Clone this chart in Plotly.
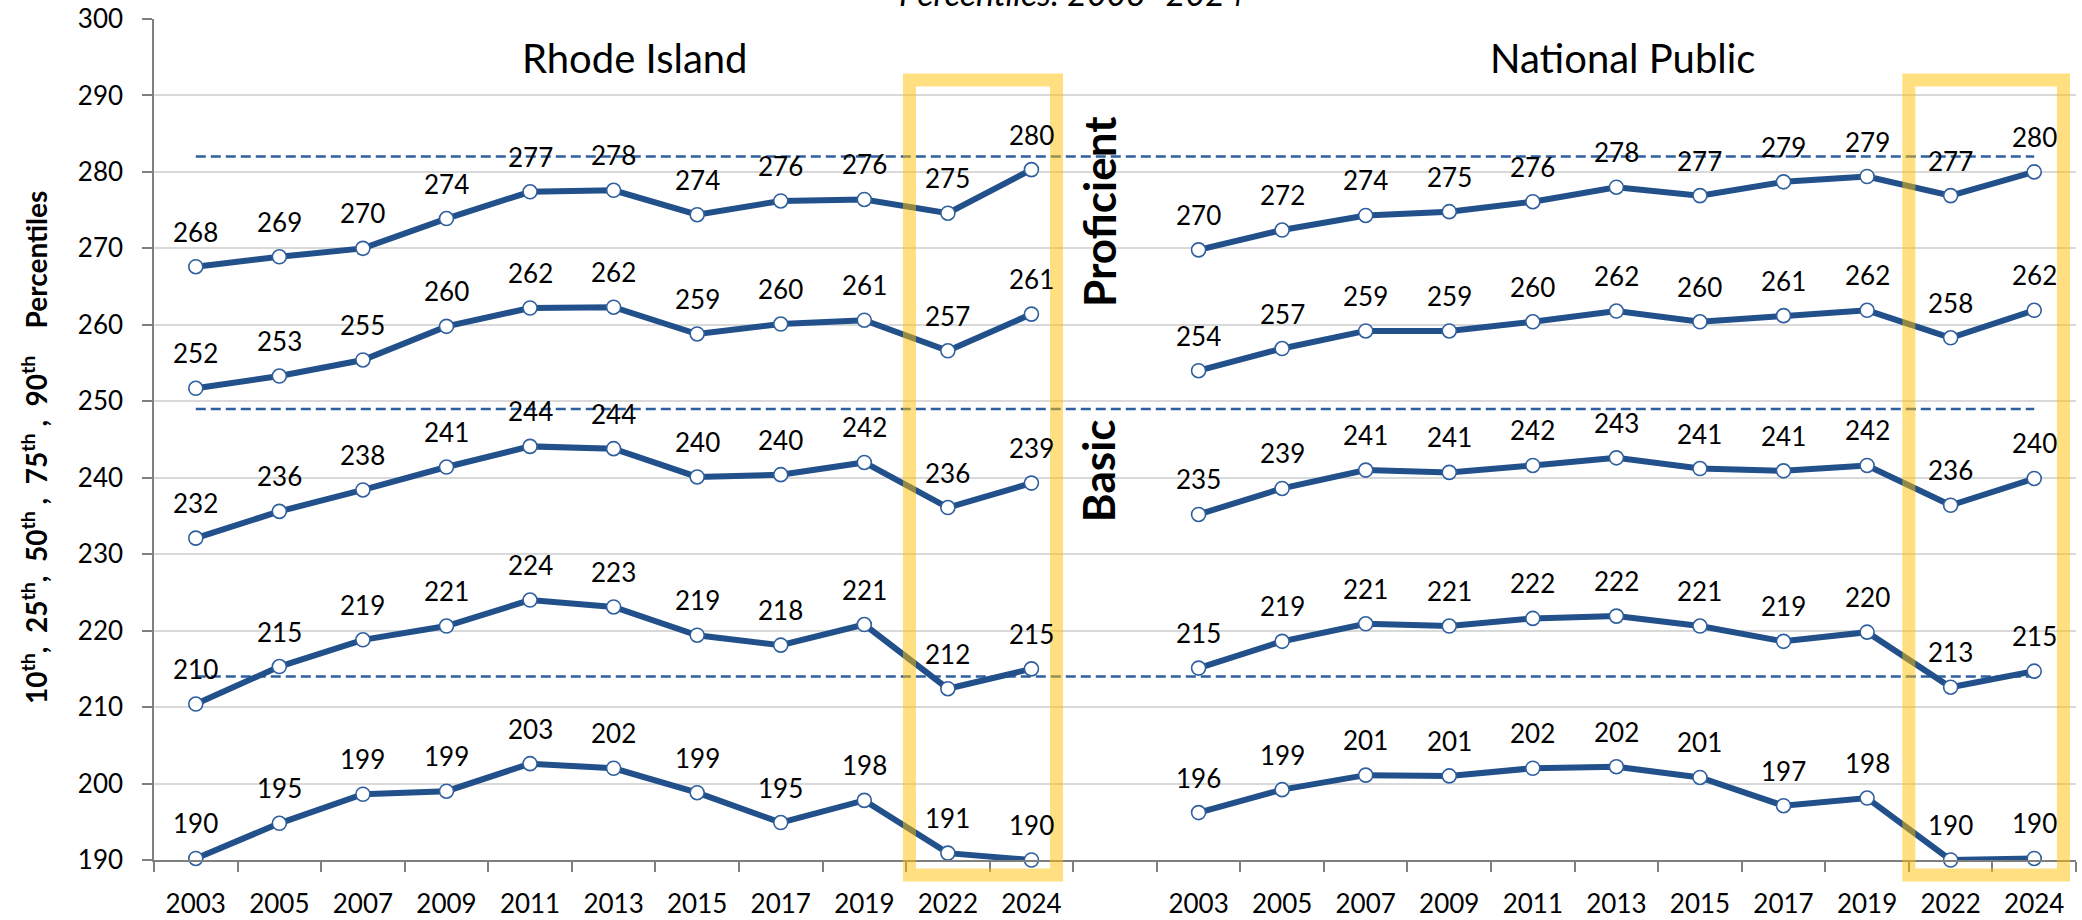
import plotly.graph_objects as go

# ---------------- data ----------------
years = ["2003", "2005", "2007", "2009", "2011", "2013", "2015", "2017", "2019", "2022", "2024"]

ri_p90 = [267.6, 268.9, 270.0, 273.9, 277.4, 277.6, 274.4, 276.2, 276.4, 274.6, 280.3]
ri_p75 = [251.7, 253.3, 255.4, 259.8, 262.2, 262.3, 258.8, 260.1, 260.6, 256.6, 261.4]
ri_p50 = [232.1, 235.6, 238.4, 241.4, 244.1, 243.8, 240.1, 240.4, 242.0, 236.1, 239.3]
ri_p25 = [210.4, 215.3, 218.8, 220.6, 224.0, 223.1, 219.4, 218.1, 220.8, 212.4, 215.0]
ri_p10 = [190.2, 194.8, 198.6, 199.0, 202.6, 202.0, 198.8, 194.9, 197.8, 190.9, 190.0]

np_p90 = [269.8, 272.4, 274.3, 274.8, 276.1, 278.0, 276.9, 278.7, 279.4, 276.9, 280.0]
np_p75 = [254.0, 256.9, 259.2, 259.2, 260.4, 261.8, 260.4, 261.2, 261.9, 258.3, 261.9]
np_p50 = [235.2, 238.6, 241.0, 240.7, 241.6, 242.6, 241.2, 240.9, 241.6, 236.4, 239.9]
np_p25 = [215.1, 218.6, 220.9, 220.6, 221.6, 221.9, 220.6, 218.6, 219.8, 212.6, 214.7]
np_p10 = [196.2, 199.2, 201.1, 201.0, 202.0, 202.2, 200.8, 197.1, 198.1, 190.0, 190.2]

cut_scores = [282, 249, 214]          # Advanced / Proficient / Basic cut lines
panel_titles = ["Rhode Island", "National Public"]

# ---------------- layout constants ----------------
W, H = 2082, 920
ML, MR, MT, MB = 154, 6, 19, 60
FONT = "Lato"
LINE_COLOR = "#22508a"
MARK_LINE = "#2f5f9e"
DASH_COLOR = "#2f5f9e"
GOLD = "rgba(255,192,0,0.5)"

ri_x = list(range(len(years)))
np_x = [i + len(years) + 1 for i in range(len(years))]
n_cat = len(years) * 2 + 1
x_lo, x_hi = -0.5, n_cat - 0.5

fig = go.Figure()

labels = []
for xs, series in [(ri_x, [ri_p90, ri_p75, ri_p50, ri_p25, ri_p10]),
                   (np_x, [np_p90, np_p75, np_p50, np_p25, np_p10])]:
    for vals in series:
        fig.add_trace(go.Scatter(
            x=xs, y=vals, mode="lines+markers",
            line=dict(color=LINE_COLOR, width=6),
            marker=dict(size=14, color="white", line=dict(color=MARK_LINE, width=1.6)),
            cliponaxis=False, showlegend=False, hoverinfo="skip"))
        for xv, v in zip(xs, vals):
            labels.append(dict(x=xv, y=v, text=f"{v:.0f}", showarrow=False,
                               xref="x", yref="y", yshift=35,
                               font=dict(family=FONT, size=26, color="black")))

shapes = []
for c in cut_scores:
    shapes.append(dict(type="line", xref="x", yref="y", x0=ri_x[0], x1=np_x[-1], y0=c, y1=c,
                       line=dict(color=DASH_COLOR, width=2.5, dash="10px,5px"), layer="between"))


def px_x(xd):
    return (xd - x_lo) / (x_hi - x_lo)


def py(pix):
    return (H - MB - pix) / (H - MT - MB)


# highlight boxes around 2022-2024
for x0, x1 in [(ri_x[-2] - 0.46, ri_x[-1] + 0.30), (np_x[-2] - 0.5, np_x[-1] + 0.35)]:
    shapes.append(dict(type="rect", xref="paper", yref="paper",
                       x0=px_x(x0), x1=px_x(x1), y0=py(875), y1=py(80),
                       line=dict(color=GOLD, width=13), fillcolor="rgba(0,0,0,0)", layer="above"))

ann = list(labels)
ann.append(dict(x=5.25, y=294.9, xref="x", yref="y", text=panel_titles[0], showarrow=False,
                font=dict(family=FONT, size=40, color="black")))
ann.append(dict(x=17.07, y=294.9, xref="x", yref="y", text=panel_titles[1], showarrow=False,
                font=dict(family=FONT, size=40, color="black")))
ann.append(dict(x=10.8, y=274.8, xref="x", yref="y", text="<b>Proficient</b>", showarrow=False,
                textangle=-90, font=dict(family=FONT, size=44, color="black")))
ann.append(dict(x=10.8, y=240.9, xref="x", yref="y", text="<b>Basic</b>", showarrow=False,
                textangle=-90, font=dict(family=FONT, size=44, color="black")))
ann.append(dict(x=px_x(10.48), y=py(15), xref="paper", yref="paper", xanchor="center", yanchor="bottom",
                text="<i>Percentiles: 2003\u20132024</i>", showarrow=False,
                font=dict(family=FONT, size=34, color="black")))
ann.append(dict(x=(34 - ML) / (W - ML - MR), y=py(448), xref="paper", yref="paper",
                xanchor="center", yanchor="middle",
                text=("<b>10<sup>th</sup>,&nbsp;&nbsp;25<sup>th</sup>,&nbsp;&nbsp;50<sup>th</sup>&nbsp;,&nbsp;&nbsp;"
                      "75<sup>th</sup>&nbsp;,&nbsp;&nbsp;90<sup>th</sup>&nbsp;&nbsp;&nbsp;&nbsp;Percentiles</b>"),
                showarrow=False, textangle=-90, font=dict(family=FONT, size=28, color="black")))

fig.update_layout(
    width=W, height=H,
    margin=dict(l=ML, r=MR, t=MT, b=MB, autoexpand=False),
    paper_bgcolor="white", plot_bgcolor="white",
    shapes=shapes, annotations=ann,
    xaxis=dict(range=[x_lo, x_hi], tickmode="array", tickvals=ri_x + np_x, ticktext=years + years,
               ticks="", showgrid=False, zeroline=False, showline=True, linecolor="#7f7f7f", linewidth=1.5,
               automargin=False,
               ticklabelstandoff=20, tickfont=dict(family=FONT, size=26, color="black"),
               minor=dict(tickmode="array", tickvals=[i - 0.5 for i in range(n_cat + 1)],
                          ticks="outside", ticklen=10, tickcolor="#7f7f7f", tickwidth=1.5, showgrid=False)),
    yaxis=dict(range=[190, 300], dtick=10, tick0=190, showgrid=True, gridcolor="#d9d9d9", gridwidth=1.5,
               zeroline=False, showline=True, linecolor="#7f7f7f", linewidth=1.5, automargin=False,
               ticks="outside", ticklen=10, tickcolor="#7f7f7f", tickwidth=1.5,
               ticklabelstandoff=14, tickfont=dict(family=FONT, size=26, color="black")),
)

fig.write_html("out.html", config={"displayModeBar": False},
               post_script="document.body.style.margin='0';document.body.style.overflow='hidden';")
